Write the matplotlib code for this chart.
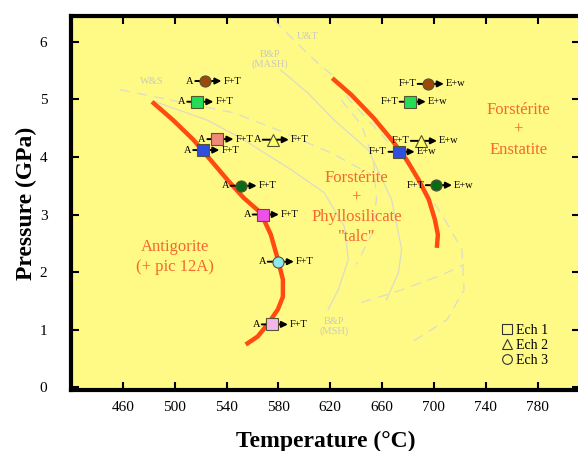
import matplotlib
matplotlib.use('Agg')
import matplotlib.pyplot as plt
from matplotlib.lines import Line2D

plt.rcParams['font.family'] = 'serif'
plt.rcParams['font.serif'] = ['Liberation Serif', 'DejaVu Serif']

# reaction boundaries (T in C, P in GPa)
atg_T = [482.5, 498.8, 514.4, 527.6, 540.8, 553.2, 566.4, 574.2, 579.6, 583.5, 583.5, 579.6, 572.6, 564.1, 554.8]
atg_P = [4.96, 4.64, 4.30, 3.95, 3.60, 3.29, 3.03, 2.65, 2.22, 1.87, 1.57, 1.35, 1.12, 0.88, 0.74]
tlc_T = [621.6, 636.3, 653.4, 667.4, 679.0, 688.3, 696.1, 700.8, 703.1, 702.3]
tlc_P = [5.37, 5.08, 4.68, 4.30, 3.95, 3.60, 3.26, 2.91, 2.65, 2.42]

# literature curves (grey)
ws_T = [457.7, 496.5, 545.4, 579.6, 620.8, 651.8]
ws_P = [5.17, 4.99, 4.77, 4.47, 4.07, 3.69]
bp_msh_T = [484.9, 525.2, 553.2, 589.7, 615.3, 630.9, 634.0, 626.2, 618.4]
bp_msh_P = [4.96, 4.64, 4.30, 3.78, 3.38, 2.79, 2.22, 1.69, 1.35]
bp_mash_T = [581.9, 602.9, 623.1, 649.5, 667.4, 675.1, 672.8, 663.5]
bp_mash_P = [5.51, 5.11, 4.64, 4.12, 3.26, 2.40, 2.00, 1.52]
ut_T = [576.5, 592.0, 607.6, 623.1, 634.8, 659.6, 682.9, 706.2, 721.7, 723.3, 710.1, 682.9]
ut_P = [6.38, 6.03, 5.69, 5.39, 4.99, 4.39, 3.78, 3.00, 2.39, 1.69, 1.17, 0.78]
g5_T = [644.1, 675.1, 706.2, 723.3]
g5_P = [1.47, 1.69, 1.95, 2.13]
g6_T = [628.5, 644.1, 653.4, 655.7, 651.8, 640.2]
g6_P = [4.99, 4.56, 3.95, 3.26, 2.65, 2.13]

# experiments: A -> F+T
exp1_T = [523.7, 517.5, 533.0, 575.7, 522.1, 550.9, 568.0, 579.6, 575.0]
exp1_P = [5.32, 4.96, 4.31, 4.30, 4.12, 3.50, 3.00, 2.18, 1.09]
exp1_ech = [3, 1, 1, 2, 1, 3, 1, 3, 1]
exp1_col = ['#9C4A0C', '#22DD55', '#F08878', '#FFFF66', '#2E4FE0', '#0B6A1A', '#F050E8', '#8EE8F0', '#F0B8E8']
# experiments: F+T -> E+w
exp2_T = [695.3, 681.4, 690.0, 672.8, 701.6]
exp2_P = [5.27, 4.96, 4.28, 4.09, 3.51]
exp2_ech = [3, 1, 2, 1, 3]
exp2_col = ['#9C4A0C', '#22DD55', '#FFFF66', '#2E4FE0', '#0B6A1A']

xticks = [460, 500, 540, 580, 620, 660, 700, 740, 780]
yticks = [0, 1, 2, 3, 4, 5, 6]

shapes = {1: 's', 2: '^', 3: 'o'}
red = '#FF4A12'
txt_red = '#F26A30'
grey = '#DCDCC8'

fig = plt.figure(figsize=(5.78, 4.51), dpi=100)
ax = fig.add_axes([71 / 578, 1 - 390 / 451, 1.004 - 71 / 578, (390 - 16) / 451])
ax.set_facecolor('#FFFA85')
ax.set_xlim(420, 813)
ax.set_ylim(-0.05, 6.45)

# grey literature curves
ax.plot(ws_T, ws_P, color=grey, lw=0.9, ls=(0, (8, 6)))
ax.plot(bp_msh_T, bp_msh_P, color=grey, lw=0.9)
ax.plot(bp_mash_T, bp_mash_P, color=grey, lw=0.9)
ax.plot(ut_T, ut_P, color=grey, lw=0.9, ls=(0, (8, 6)))
ax.plot(g5_T, g5_P, color=grey, lw=0.9, ls=(0, (8, 6)))
ax.plot(g6_T, g6_P, color=grey, lw=0.9, ls=(0, (8, 6)))
gk = dict(color='#CACAC0', fontsize=7.5, ha='center', va='center', linespacing=1.0)
ax.text(482.5, 5.32, 'W&S', **gk)
ax.text(573.4, 5.69, 'B&P\n(MASH)', **gk)
ax.text(602.9, 6.09, 'U&T', **gk)
ax.text(623.1, 1.05, 'B&P\n(MSH)', **gk)

# boundaries
ax.plot(atg_T, atg_P, color=red, lw=3.2, solid_capstyle='butt', zorder=3)
ax.plot(tlc_T, tlc_P, color=red, lw=3.2, solid_capstyle='butt', zorder=3)

def draw_exp(T, P, ech, col, left, right):
    for t, p, e, c in zip(T, P, ech, col):
        ax.annotate('', xy=(t + 12.4, p), xytext=(t - 7.8, p),
                    arrowprops=dict(arrowstyle='-|>', color='black', lw=1.4,
                                    mutation_scale=9, shrinkA=0, shrinkB=0),
                    zorder=4)
        ax.plot(t, p, marker=shapes[e], ms=8 if e != 2 else 9, mfc=c,
                mec='#555533', mew=0.8, ls='none', zorder=5)
        ax.text(t - 9, p, left, ha='right', va='center', fontsize=7.5, zorder=5)
        ax.text(t + 14, p, right, ha='left', va='center', fontsize=7.5, zorder=5)

draw_exp(exp1_T, exp1_P, exp1_ech, exp1_col, 'A', 'F+T')
draw_exp(exp2_T, exp2_P, exp2_ech, exp2_col, 'F+T', 'E+w')

# field names
tk = dict(color=txt_red, fontsize=12, ha='center', va='center', linespacing=1.3)
ax.text(500.0, 2.26, 'Antigorite\n(+ pic 12A)', **tk)
ax.text(640.2, 3.12, 'Forstérite\n+\nPhyllosilicate\n"talc"', **tk)
ax.text(765.0, 4.47, 'Forstérite\n+\nEnstatite', **tk)

# sample legend
handles = [Line2D([], [], marker=shapes[k], ls='none', mfc='none', mec='#333333',
                  mew=0.8, ms=7) for k in (1, 2, 3)]
ax.legend(handles, ['Ech 1', 'Ech 2', 'Ech 3'], loc='lower right',
          bbox_to_anchor=(0.955, 0.035), frameon=False, fontsize=10,
          handletextpad=0.1, labelspacing=0.15, handlelength=1.0, borderpad=0.2)

ax.set_xticks(xticks)
ax.set_yticks(yticks)
ax.tick_params(direction='in', length=6, width=1.5, labelsize=11,
               top=True, right=True, pad=8)
ax.tick_params(axis='y', pad=17)
for s in ['left', 'bottom', 'top']:
    ax.spines[s].set_linewidth(3)
ax.spines['right'].set_visible(False)

ax.set_xlabel('Temperature (°C)', fontsize=17, fontweight='bold', labelpad=12)
ax.set_ylabel('Pressure (GPa)', fontsize=17, fontweight='bold', labelpad=2)

fig.savefig('out.png', dpi=100)
